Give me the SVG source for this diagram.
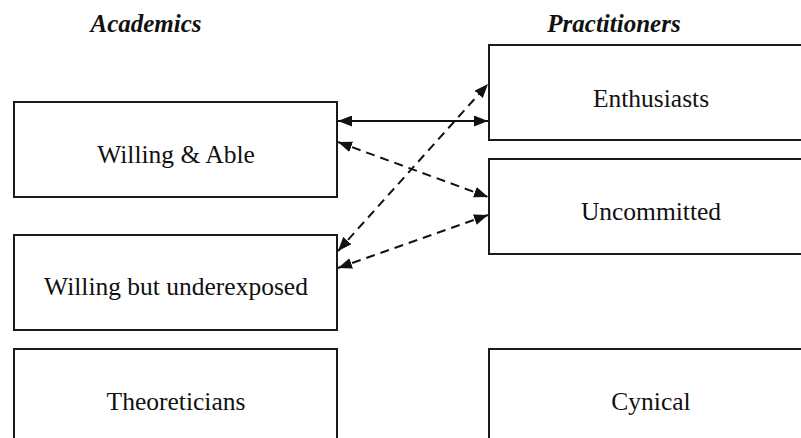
<svg xmlns="http://www.w3.org/2000/svg" width="801" height="438" viewBox="0 0 801 438">
<style>
.box{fill:#fff;stroke:#1a1a1a;stroke-width:2}
.lbl{font-size:25.5px;fill:#111;text-anchor:middle}
.hdr{font-size:25px;font-weight:bold;font-style:italic;fill:#111;text-anchor:middle}
.con{fill:none;stroke:#111;stroke-width:2}
.dash{stroke-dasharray:9 6}
</style>
<defs>
<marker id="ah" viewBox="0 0 14 11" refX="14" refY="5.5" markerWidth="14" markerHeight="11" markerUnits="userSpaceOnUse" orient="auto-start-reverse">
<path d="M0,0 L14,5.5 L0,11 Z" fill="#111"/>
</marker>
</defs>
<rect width="801" height="438" fill="#fff"/>
<g font-family="'Liberation Serif', 'Times New Roman', Times, serif">
<text class="hdr" x="146" y="32">Academics</text>
<text class="hdr" x="614" y="32">Practitioners</text>
<g id="willing-able"><rect class="box" x="14" y="102" width="323" height="95"/><text class="lbl" x="176" y="163">Willing &amp; Able</text></g>
<g id="willing-under"><rect class="box" x="14" y="235" width="323" height="95"/><text class="lbl" x="176" y="295">Willing but underexposed</text></g>
<g id="theoreticians"><rect class="box" x="14" y="349" width="323" height="100"/><text class="lbl" x="176" y="410">Theoreticians</text></g>
<g id="enthusiasts"><rect class="box" x="489" y="45" width="323" height="95"/><text class="lbl" x="651" y="107">Enthusiasts</text></g>
<g id="uncommitted"><rect class="box" x="489" y="159" width="323" height="95"/><text class="lbl" x="651" y="220">Uncommitted</text></g>
<g id="cynical"><rect class="box" x="489" y="349" width="323" height="100"/><text class="lbl" x="651" y="410">Cynical</text></g>
</g>
<g id="connectors">
<line class="con" x1="338" y1="121" x2="488" y2="121" marker-start="url(#ah)" marker-end="url(#ah)"/>
<line class="con dash" x1="338" y1="142" x2="488" y2="197" marker-start="url(#ah)" marker-end="url(#ah)"/>
<line class="con dash" x1="338" y1="251" x2="488" y2="84" marker-start="url(#ah)" marker-end="url(#ah)"/>
<line class="con dash" x1="338" y1="268" x2="488" y2="215" marker-start="url(#ah)" marker-end="url(#ah)"/>
</g>
</svg>
